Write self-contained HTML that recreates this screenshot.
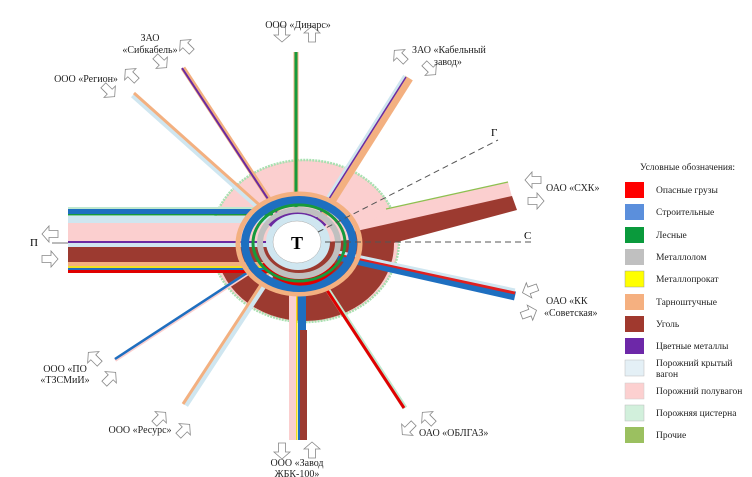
<!DOCTYPE html>
<html><head><meta charset="utf-8"><style>
html,body{margin:0;padding:0;background:#fff;}
svg{display:block;font-family:"Liberation Serif",serif;}
</style></head><body>
<svg width="752" height="477" viewBox="0 0 752 477" xmlns="http://www.w3.org/2000/svg">
<defs>
<path id="ar" d="M-8,-3.5 L1,-3.5 L1,-8 L8,0 L1,8 L1,3.5 L-8,3.5 Z" fill="#fff" stroke="#888" stroke-width="0.8"/>
<clipPath id="lower"><polygon points="150,258 460,230 460,400 150,400"/></clipPath>
</defs>

<!-- big disc -->
<ellipse cx="305" cy="241" rx="94" ry="81" fill="#fbcfcf" stroke="#a8e0b0" stroke-width="2.5" stroke-dasharray="2 1"/>
<ellipse cx="305" cy="244" rx="89" ry="77" fill="#9c3a30" clip-path="url(#lower)"/>

<!-- СХК band -->
<polygon points="386,209 508,182 512,197 360,232" fill="#fbcfcf"/>
<line x1="386" y1="209" x2="508" y2="182" stroke="#8dc050" stroke-width="1.2"/>
<polygon points="512,196 517,210 360,252 352,232" fill="#9c3a30"/>

<!-- spokes -->
<line x1="296" y1="52" x2="296" y2="225" stroke="#f3b080" stroke-width="5"/>
<line x1="296" y1="52" x2="296" y2="225" stroke="#179a3c" stroke-width="3"/>
<line x1="183" y1="68" x2="286" y2="225" stroke="#f3b080" stroke-width="5"/>
<line x1="182" y1="68" x2="285" y2="225" stroke="#6a2aa0" stroke-width="2"/>
<line x1="133" y1="95" x2="282" y2="228" stroke="#cfe6f0" stroke-width="6"/>
<line x1="134" y1="93" x2="283" y2="226" stroke="#f3b080" stroke-width="3"/>
<line x1="409" y1="78" x2="318" y2="222" stroke="#f3b080" stroke-width="9"/>
<line x1="405" y1="76" x2="314" y2="220" stroke="#cfe6f0" stroke-width="4"/>
<line x1="406" y1="77" x2="315" y2="221" stroke="#6a2aa0" stroke-width="1.5"/>
<line x1="338" y1="256" x2="515" y2="296" stroke="#1e6fc0" stroke-width="9"/>
<line x1="338" y1="254" x2="515" y2="293" stroke="#e02020" stroke-width="3"/>
<line x1="338" y1="252" x2="515" y2="290" stroke="#cfe6f0" stroke-width="3"/>
<line x1="320" y1="278" x2="405" y2="408" stroke="#bfe8cf" stroke-width="5"/>
<line x1="319" y1="278" x2="404" y2="408" stroke="#e00000" stroke-width="3"/>
<rect x="289" y="285" width="8" height="155" fill="#fbcfcf"/>
<rect x="296" y="285" width="1.5" height="155" fill="#f0e020"/>
<rect x="298" y="285" width="8" height="155" fill="#1e6fc0"/>
<rect x="300" y="330" width="7" height="110" fill="#9c3a30"/>
<line x1="185" y1="405" x2="272" y2="272" stroke="#cfe6f0" stroke-width="7"/>
<line x1="183" y1="404" x2="270" y2="271" stroke="#f3b080" stroke-width="3"/>
<line x1="115" y1="360" x2="256" y2="268" stroke="#fbcfcf" stroke-width="4"/>
<line x1="115" y1="359" x2="256" y2="267" stroke="#1e6fc0" stroke-width="2.5"/>

<!-- left band -->
<rect x="68" y="207" width="200" height="2" fill="#bfe8cf"/>
<rect x="68" y="209" width="205" height="5" fill="#1e6fc0"/>
<rect x="68" y="214" width="205" height="1.5" fill="#179a3c"/>
<rect x="68" y="216" width="215" height="7" fill="#cfe6f0"/>
<rect x="68" y="223" width="215" height="18" fill="#fbcfcf"/>
<rect x="68" y="241" width="215" height="2" fill="#6a2aa0"/>
<rect x="68" y="243" width="215" height="4" fill="#cfe6f0"/>
<rect x="68" y="247" width="215" height="15" fill="#9c3a30"/>
<rect x="68" y="262" width="200" height="4" fill="#f3b080"/>
<rect x="68" y="266" width="200" height="2" fill="#f0e020"/>
<rect x="68" y="268" width="200" height="2" fill="#1e6fc0"/>
<rect x="68" y="270" width="200" height="3" fill="#e00000"/>

<!-- rings -->
<ellipse cx="299" cy="244" rx="61" ry="50" fill="none" stroke="#f3b080" stroke-width="5"/>
<ellipse cx="299" cy="244" rx="54" ry="44" fill="none" stroke="#1e6fc0" stroke-width="8"/>
<path d="M265,262 A40,37 0 0 0 335,264" fill="none" stroke="#e00000" stroke-width="7"/>
<ellipse cx="299" cy="243" rx="46" ry="38" fill="none" stroke="#179a3c" stroke-width="3"/>
<ellipse cx="299" cy="243" rx="39" ry="33" fill="none" stroke="#c0c0c0" stroke-width="6"/>
<path d="M270,226 A35,30 0 0 1 325,226" fill="none" stroke="#6a2aa0" stroke-width="4"/>
<ellipse cx="298" cy="242" rx="32" ry="28" fill="#cfe6f0"/>
<ellipse cx="297" cy="242" rx="24" ry="21" fill="#fff" stroke="#aaa" stroke-width="0.5"/>
<text x="297" y="249" font-size="18" text-anchor="middle" font-weight="bold">Т</text>

<!-- dashed lines -->
<line x1="325" y1="242" x2="535" y2="242" stroke="#555" stroke-width="1" stroke-dasharray="6 4"/>
<line x1="318" y1="232" x2="498" y2="140" stroke="#555" stroke-width="1" stroke-dasharray="6 4"/>
<line x1="52" y1="243" x2="68" y2="243" stroke="#777" stroke-width="1"/>
<text x="491" y="136" font-size="11">Г</text>
<text x="524" y="239" font-size="11">С</text>
<text x="30" y="246" font-size="11">П</text>

<!-- arrows -->
<use href="#ar" transform="translate(282,34) rotate(90)"/>
<use href="#ar" transform="translate(312,34) rotate(-90)"/>
<use href="#ar" transform="translate(186,46) rotate(-135)"/>
<use href="#ar" transform="translate(161,62) rotate(45)"/>
<use href="#ar" transform="translate(131,75) rotate(-135)"/>
<use href="#ar" transform="translate(109,91) rotate(45)"/>
<use href="#ar" transform="translate(400,56) rotate(-135)"/>
<use href="#ar" transform="translate(430,69) rotate(45)"/>
<use href="#ar" transform="translate(533,180) rotate(180)"/>
<use href="#ar" transform="translate(536,201) rotate(0)"/>
<use href="#ar" transform="translate(530,290) rotate(160)"/>
<use href="#ar" transform="translate(529,313) rotate(-20)"/>
<use href="#ar" transform="translate(428,418) rotate(-135)"/>
<use href="#ar" transform="translate(408,429) rotate(135)"/>
<use href="#ar" transform="translate(282,451) rotate(90)"/>
<use href="#ar" transform="translate(312,450) rotate(-90)"/>
<use href="#ar" transform="translate(160,418) rotate(-45)"/>
<use href="#ar" transform="translate(184,430) rotate(-45)"/>
<use href="#ar" transform="translate(94,358) rotate(-135)"/>
<use href="#ar" transform="translate(110,378) rotate(-45)"/>
<use href="#ar" transform="translate(50,234) rotate(180)"/>
<use href="#ar" transform="translate(50,259) rotate(0)"/>

<!-- labels -->
<g font-size="10" fill="#222">
<text x="298" y="28" text-anchor="middle">ООО «Динарс»</text>
<text x="150" y="41" text-anchor="middle">ЗАО</text>
<text x="150" y="53" text-anchor="middle">«Сибкабель»</text>
<text x="86" y="82" text-anchor="middle">ООО «Регион»</text>
<text x="412" y="53">ЗАО «Кабельный</text>
<text x="434" y="65">завод»</text>
<text x="546" y="191">ОАО «СХК»</text>
<text x="546" y="304">ОАО «КК</text>
<text x="544" y="316">«Советская»</text>
<text x="65" y="372" text-anchor="middle">ООО «ПО</text>
<text x="65" y="383" text-anchor="middle">«ТЗСМиИ»</text>
<text x="140" y="433" text-anchor="middle">ООО «Ресурс»</text>
<text x="419" y="436">ОАО «ОБЛГАЗ»</text>
<text x="297" y="466" text-anchor="middle">ООО «Завод</text>
<text x="297" y="477" text-anchor="middle">ЖБК-100»</text>
</g>

<!-- legend -->
<g font-size="9.5" fill="#222">
<text x="640" y="170">Условные обозначения:</text>
<rect x="625" y="182" width="19" height="16" fill="#ff0000"/><text x="656" y="193">Опасные грузы</text>
<rect x="625" y="204" width="19" height="16" fill="#5b8fdc"/><text x="656" y="215">Строительные</text>
<rect x="625" y="227" width="19" height="16" fill="#0a9a3c"/><text x="656" y="238">Лесные</text>
<rect x="625" y="249" width="19" height="16" fill="#c0c0c0"/><text x="656" y="260">Металлолом</text>
<rect x="625" y="271" width="19" height="16" fill="#ffff00" stroke="#999" stroke-width="0.5"/><text x="656" y="282">Металлопрокат</text>
<rect x="625" y="294" width="19" height="16" fill="#f5b080"/><text x="656" y="305">Тарноштучные</text>
<rect x="625" y="316" width="19" height="16" fill="#a0392e"/><text x="656" y="327">Уголь</text>
<rect x="625" y="338" width="19" height="16" fill="#6d28a8"/><text x="656" y="349">Цветные металлы</text>
<rect x="625" y="360" width="19" height="16" fill="#e4f0f6" stroke="#bbb" stroke-width="0.5"/><text x="656" y="366">Порожний крытый</text><text x="656" y="377">вагон</text>
<rect x="625" y="383" width="19" height="16" fill="#fcd0d0" stroke="#ccc" stroke-width="0.5"/><text x="656" y="394">Порожний полувагон</text>
<rect x="625" y="405" width="19" height="16" fill="#d2f0dc" stroke="#bbb" stroke-width="0.5"/><text x="656" y="416">Порожняя цистерна</text>
<rect x="625" y="427" width="19" height="16" fill="#9bc060"/><text x="656" y="438">Прочие</text>
</g>
</svg>
</body></html>
